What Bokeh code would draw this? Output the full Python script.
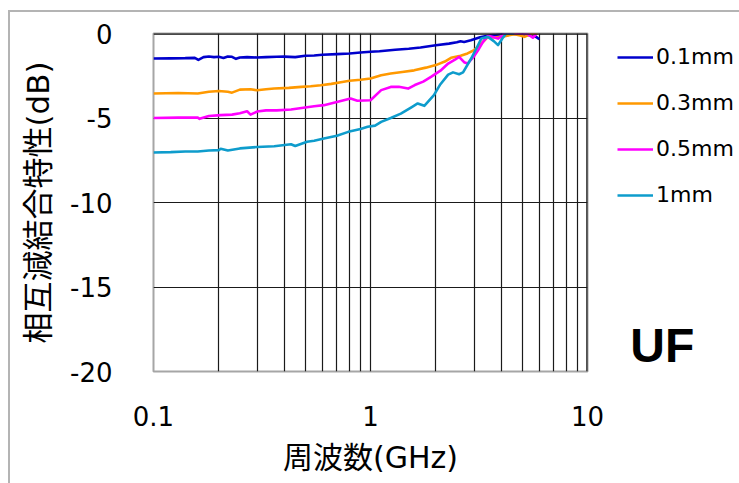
from bokeh.plotting import figure
from bokeh.models import FixedTicker, Legend, LegendItem, Range1d, Span
from bokeh.embed import file_html
from bokeh.resources import INLINE

# Measured coupling characteristics per spacing (frequency in GHz, level in dB)
freq_01 = [0.1, 0.12, 0.14, 0.155, 0.161, 0.17, 0.18, 0.19, 0.2, 0.21, 0.22, 0.23, 0.24, 0.25,
           0.27, 0.3, 0.33, 0.37, 0.4, 0.45, 0.5, 0.55, 0.6, 0.7, 0.8, 0.9, 1.0, 1.1, 1.3, 1.5,
           1.7, 2.0, 2.3, 2.5, 2.6, 2.7, 2.9, 3.2, 3.5, 3.8, 4.2, 4.6, 5.0, 5.5, 5.8, 6.0]
db_01 = [-1.48, -1.47, -1.46, -1.44, -1.56, -1.40, -1.36, -1.40, -1.38, -1.45, -1.36, -1.38, -1.50, -1.42,
         -1.40, -1.42, -1.40, -1.38, -1.37, -1.40, -1.32, -1.30, -1.26, -1.22, -1.18, -1.12, -1.08, -1.05, -0.96, -0.90,
         -0.83, -0.70, -0.60, -0.52, -0.46, -0.50, -0.40, -0.22, -0.12, -0.08, 0.0, -0.02, -0.04, -0.12, -0.20, -0.34]

freq_03 = [0.1, 0.13, 0.16, 0.18, 0.2, 0.22, 0.23, 0.25, 0.28, 0.3, 0.33, 0.36, 0.42, 0.48, 0.53,
           0.59, 0.66, 0.73, 0.8, 0.9, 1.0, 1.12, 1.24, 1.4, 1.59, 1.8, 2.0, 2.2, 2.35, 2.6, 2.8,
           3.0, 3.24, 3.48, 3.7, 4.0, 4.6, 4.9, 5.12, 5.4, 5.9]
db_03 = [-3.55, -3.52, -3.55, -3.45, -3.40, -3.45, -3.50, -3.32, -3.30, -3.36, -3.30, -3.25, -3.22, -3.16, -3.12,
         -3.06, -2.98, -2.88, -2.80, -2.74, -2.66, -2.47, -2.37, -2.28, -2.18, -2.02, -1.87, -1.66, -1.44, -1.32, -1.18,
         -0.99, -0.59, -0.20, -0.24, -0.20, -0.04, -0.12, -0.20, -0.06, 0.0]

freq_05 = [0.1, 0.13, 0.16, 0.163, 0.18, 0.204, 0.23, 0.25, 0.27, 0.28, 0.3, 0.33, 0.37, 0.43, 0.5,
           0.55, 0.61, 0.7, 0.81, 0.87, 1.0, 1.12, 1.24, 1.35, 1.49, 1.6, 1.75, 1.9, 2.1, 2.28,
           2.45, 2.56, 2.7, 2.8, 3.0, 3.13, 3.3, 3.48, 3.7, 3.87, 4.2, 4.8, 5.3, 5.6, 5.8]
db_05 = [-5.00, -4.98, -4.98, -5.05, -4.88, -4.83, -4.80, -4.72, -4.60, -4.80, -4.62, -4.55, -4.55, -4.50, -4.38,
         -4.30, -4.24, -4.05, -3.85, -3.98, -3.95, -3.35, -3.16, -3.15, -3.26, -3.05, -2.85, -2.57, -2.20, -1.78,
         -1.55, -1.38, -1.70, -1.78, -1.35, -0.99, -0.50, -0.14, -0.22, -0.30, 0.0, 0.0, -0.02, -0.25, -0.05]

freq_1 = [0.1, 0.12, 0.14, 0.16, 0.18, 0.2, 0.204, 0.22, 0.25, 0.3, 0.36, 0.43, 0.45, 0.51, 0.55,
          0.61, 0.7, 0.79, 0.9, 0.97, 1.05, 1.12, 1.24, 1.38, 1.55, 1.65, 1.77, 1.96, 2.1, 2.28,
          2.4, 2.56, 2.67, 2.91, 3.1, 3.24, 3.48, 3.7, 3.87, 4.05, 4.22, 4.6]
db_1 = [-7.04, -7.02, -6.98, -6.98, -6.92, -6.90, -6.82, -6.92, -6.80, -6.72, -6.67, -6.55, -6.66, -6.41, -6.35,
        -6.21, -6.05, -5.82, -5.65, -5.52, -5.45, -5.23, -5.00, -4.74, -4.35, -4.14, -4.28, -3.65, -3.00, -2.43,
        -2.30, -2.41, -2.30, -1.48, -0.80, -0.30, -0.20, -0.45, -0.69, -0.30, 0.0, 0.0]

series_names = ["0.1mm", "0.3mm", "0.5mm", "1mm"]
series_colors = ["#0000cc", "#ff9900", "#ff00ff", "#0e9ccc"]
series_freq = [freq_01, freq_03, freq_05, freq_1]
series_db = [db_01, db_03, db_05, db_1]

x_major = [0.1, 1, 10]
x_labels = ["0.1", "1", "10"]
x_grid = [0.2, 0.3, 0.4, 0.5, 0.6, 0.7, 0.8, 0.9, 1, 2, 3, 4, 5, 6, 7, 8, 9]
y_major = [-20, -15, -10, -5, 0]
y_labels = ["-20", "-15", "-10", "-5", "0"]
y_grid = [-15, -10, -5]
panel_tag = "UF"

TICK_FONT = "DejaVu Sans"
TITLE_FONT = "'DejaVu Sans', 'Noto Sans CJK JP'"
GRID_COLOR = "#1a1a1a"

p = figure(
    frame_width=434, frame_height=338,
    x_axis_type="log",
    x_range=Range1d(0.1, 10), y_range=Range1d(-20, 0),
    output_backend="svg", toolbar_location=None,
    min_border_left=143, min_border_right=0,
    min_border_top=21, min_border_bottom=112,
    background_fill_color="white", border_fill_color="white",
)
p.styles = {
    "margin-left": "8px", "margin-top": "10px",
    "border-left": "2px solid #b4b4b4", "border-top": "2px solid #b4b4b4",
}

p.outline_line_color = "#a6a6a6"
p.outline_line_width = 2

# grid
p.xgrid.ticker = FixedTicker(ticks=x_grid)
p.ygrid.ticker = FixedTicker(ticks=y_grid)
for g in (p.xgrid, p.ygrid):
    g.grid_line_color = GRID_COLOR
    g.grid_line_width = 1.2
    g.grid_line_alpha = 1.0

# dark top and right edges of the plot area
p.add_layout(Span(location=y_major[-1], dimension="width", line_color=GRID_COLOR, line_width=2.4))
p.add_layout(Span(location=x_major[-1], dimension="height", line_color=GRID_COLOR, line_width=2.4))

# axes
p.xaxis.ticker = FixedTicker(ticks=x_major)
p.xaxis.major_label_overrides = dict(zip(x_major, x_labels))
p.yaxis.ticker = FixedTicker(ticks=y_major)
p.yaxis.major_label_overrides = dict(zip(y_major, y_labels))
for ax in (p.xaxis, p.yaxis):
    ax.axis_line_color = None
    ax.major_tick_line_color = None
    ax.minor_tick_line_color = None
    ax.major_label_text_font = TICK_FONT
    ax.major_label_text_font_size = "26px"
    ax.major_label_text_color = "#000000"
    ax.axis_label_text_font = TITLE_FONT
    ax.axis_label_text_font_style = "normal"
    ax.axis_label_text_color = "#000000"

p.xaxis.axis_label = "周波数(GHz)"
p.xaxis.axis_label_text_font_size = "30px"
p.xaxis.major_label_standoff = 28
p.xaxis.axis_label_standoff = 11

p.yaxis.axis_label = "相互減結合特性(dB)"
p.yaxis.axis_label_text_font_size = "31px"
p.yaxis.major_label_standoff = 35
p.yaxis.axis_label_standoff = 11

# curves
items = []
for name, color, fx, dy in zip(series_names, series_colors, series_freq, series_db):
    r = p.line(fx, dy, line_color=color, line_width=2.6, line_join="round")
    items.append(LegendItem(label=name, renderers=[r]))

legend = Legend(
    items=items, location=(30, -2),
    glyph_width=36, glyph_height=22, label_height=22,
    label_standoff=3, spacing=21, padding=0, margin=0,
    label_text_font=TICK_FONT, label_text_font_size="22px", label_text_color="#000000",
    border_line_color=None, background_fill_alpha=0,
    title="\u00a0" + panel_tag, title_location="below", title_standoff=111,
    title_text_font="Liberation Sans", title_text_font_size="48px",
    title_text_font_style="bold", title_text_color="#000000",
)
p.add_layout(legend, "right")

open("out.html", "w").write(file_html(p, INLINE))
